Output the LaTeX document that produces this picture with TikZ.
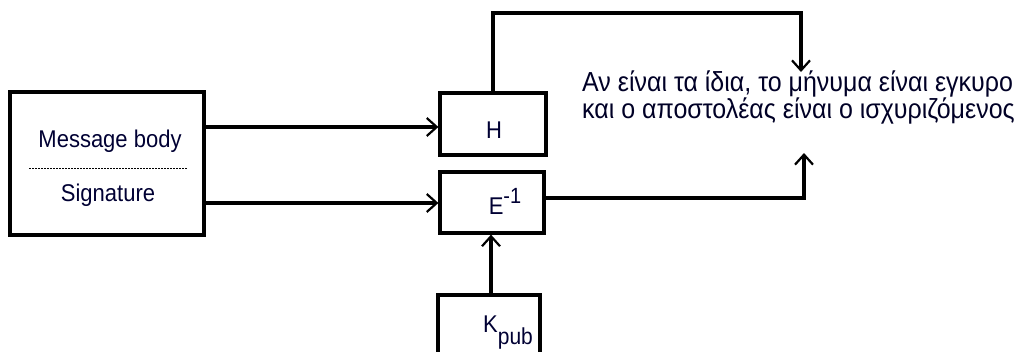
\documentclass[tikz,border=0pt]{standalone}
\usepackage{fontspec}
\setmainfont{Liberation Sans}
\usetikzlibrary{arrows.meta}
\tikzset{
  box/.style={draw, line width=3.2pt, minimum width=0pt},
  conn/.style={line width=3.2pt},
  arr/.style={conn, -{Straight Barb[length=10pt,width=18pt,line width=2.2pt]}},
  lbl/.style={font=\fontsize{22}{24}\selectfont, text=black!80!blue, inner sep=0pt},
  gr/.style={font=\fontsize{25}{27}\selectfont, text=black!85!blue, inner sep=0pt, anchor=base west}
}
\newcommand{\tall}[1]{\scalebox{1}[1.1]{#1}}
\begin{document}
\begin{tikzpicture}[x=1pt,y=-1pt]
\useasboundingbox (0,0) rectangle (1024,351);
\clip (0,0) rectangle (1024,351);
% message box
\draw[box] (10,92) rectangle (204,235);
\coordinate (msgE1) at (204,127);
\coordinate (msgE2) at (204,203);
\node[lbl, anchor=base] (mb) at (110,147) {\tall{Message body}};
\draw[dashed, dash pattern=on 2pt off 1pt, line width=0.9pt] (29,168) -- (187,168);
\node[lbl, anchor=base] (sig) at (108,201) {\tall{Signature}};
% H box
\node[box, minimum width=106pt, minimum height=62pt, inner sep=0pt] (H) at (493,124) {};
\node[lbl, anchor=base] at (494,138) {\tall{H}};
% E box
\node[box, minimum width=104pt, minimum height=61pt, inner sep=0pt] (E) at (492,202.5) {};
\node[lbl, anchor=base] at (505,214) {\tall{E\raisebox{10pt}{\fontsize{20}{22}\selectfont -1}}};
% K box
\draw[box] (438,360) -- (438,295) -- (540,295) -- (540,360);
\coordinate (Ktop) at (491,295);
\node[lbl, anchor=base west] at (483,332) {\tall{K\raisebox{-11pt}{\fontsize{21}{22}\selectfont pub}}};
% text
\node[gr] (t1) at (582,91) {\tall{Αν είναι τα ίδια, το μήνυμα είναι εγκυρο}};
\node[gr] (t2) at (582,118) {\tall{και ο αποστολέας είναι ο ισχυριζόμενος}};
\coordinate (tTop) at (801,72);
\coordinate (tBot) at (804,153);
% connectors
\draw[arr] (msgE1) -- (H.west |- msgE1);
\draw[arr] (msgE2) -- (E.west |- msgE2);
\draw[arr] (H.north -| 493,0) -- (493,13) -- (801,13) -- (tTop);
\draw[arr] (E.east |- 0,198) -- (804,198) -- (tBot);
\draw[arr] (Ktop) -- (E.south -| Ktop);
\end{tikzpicture}
\end{document}
